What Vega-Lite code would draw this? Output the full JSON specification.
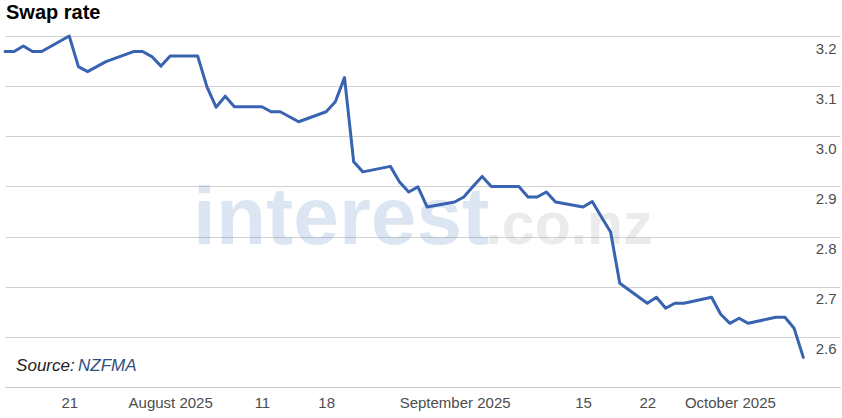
{
  "$schema": "https://vega.github.io/schema/vega-lite/v6.json",
  "autosize": {"type": "none"},
  "width": 835,
  "height": 351,
  "padding": {"left": 5, "top": 36, "right": 2, "bottom": 31},
  "background": "white",
  "config": {"view": {"stroke": null}, "font": "Liberation Sans"},
  "title": {"text": "Swap rate", "anchor": "start", "frame": "group", "font": "Liberation Sans", "fontSize": 20, "fontWeight": "bold", "color": "#000000", "offset": 12, "dx": 1},
  "layer": [
    {
      "data": {"values": [{"label": "interest"}]},
      "mark": {"type": "text", "font": "Liberation Sans", "fontWeight": "bold", "fontSize": 82, "align": "left", "baseline": "alphabetic", "fill": "#4f81bd", "fillOpacity": 0.2, "strokeWidth": 0},
      "encoding": {
        "text": {"field": "label"},
        "x": {"datum": {"year": 2025, "month": "aug", "date": 3, "hours": 12}, "type": "temporal"},
        "y": {"datum": 2.786, "type": "quantitative"}
      }
    },
    {
      "data": {"values": [{"label": ".co.nz"}]},
      "mark": {"type": "text", "font": "Liberation Sans", "fontWeight": "bold", "fontSize": 59, "align": "right", "baseline": "alphabetic", "fill": "#999999", "fillOpacity": 0.2, "strokeWidth": 0},
      "encoding": {
        "text": {"field": "label"},
        "x": {"datum": {"year": 2025, "month": "sep", "date": 22, "hours": 14}, "type": "temporal"},
        "y": {"datum": 2.786, "type": "quantitative"}
      }
    },
    {
      "data": {"values": [
        {"date": "2025-07-14T00:00:00", "rate": 3.169},
        {"date": "2025-07-15T00:00:00", "rate": 3.169},
        {"date": "2025-07-16T00:00:00", "rate": 3.18},
        {"date": "2025-07-17T00:00:00", "rate": 3.169},
        {"date": "2025-07-18T00:00:00", "rate": 3.169},
        {"date": "2025-07-21T00:00:00", "rate": 3.2},
        {"date": "2025-07-22T00:00:00", "rate": 3.139},
        {"date": "2025-07-23T00:00:00", "rate": 3.129},
        {"date": "2025-07-24T00:00:00", "rate": 3.139},
        {"date": "2025-07-25T00:00:00", "rate": 3.149},
        {"date": "2025-07-28T00:00:00", "rate": 3.169},
        {"date": "2025-07-29T00:00:00", "rate": 3.169},
        {"date": "2025-07-30T00:00:00", "rate": 3.159},
        {"date": "2025-07-31T00:00:00", "rate": 3.14},
        {"date": "2025-08-01T00:00:00", "rate": 3.16},
        {"date": "2025-08-04T00:00:00", "rate": 3.16},
        {"date": "2025-08-05T00:00:00", "rate": 3.099},
        {"date": "2025-08-06T00:00:00", "rate": 3.058},
        {"date": "2025-08-07T00:00:00", "rate": 3.08},
        {"date": "2025-08-08T00:00:00", "rate": 3.059},
        {"date": "2025-08-11T00:00:00", "rate": 3.059},
        {"date": "2025-08-12T00:00:00", "rate": 3.049},
        {"date": "2025-08-13T00:00:00", "rate": 3.049},
        {"date": "2025-08-14T00:00:00", "rate": 3.039},
        {"date": "2025-08-15T00:00:00", "rate": 3.029},
        {"date": "2025-08-18T00:00:00", "rate": 3.049},
        {"date": "2025-08-19T00:00:00", "rate": 3.069},
        {"date": "2025-08-20T00:00:00", "rate": 3.117},
        {"date": "2025-08-21T00:00:00", "rate": 2.949},
        {"date": "2025-08-22T00:00:00", "rate": 2.929},
        {"date": "2025-08-25T00:00:00", "rate": 2.94},
        {"date": "2025-08-26T00:00:00", "rate": 2.909},
        {"date": "2025-08-27T00:00:00", "rate": 2.889},
        {"date": "2025-08-28T00:00:00", "rate": 2.899},
        {"date": "2025-08-29T00:00:00", "rate": 2.859},
        {"date": "2025-09-01T00:00:00", "rate": 2.869},
        {"date": "2025-09-02T00:00:00", "rate": 2.879},
        {"date": "2025-09-03T00:00:00", "rate": 2.9},
        {"date": "2025-09-04T00:00:00", "rate": 2.92},
        {"date": "2025-09-05T00:00:00", "rate": 2.9},
        {"date": "2025-09-08T00:00:00", "rate": 2.9},
        {"date": "2025-09-09T00:00:00", "rate": 2.879},
        {"date": "2025-09-10T00:00:00", "rate": 2.879},
        {"date": "2025-09-11T00:00:00", "rate": 2.889},
        {"date": "2025-09-12T00:00:00", "rate": 2.869},
        {"date": "2025-09-15T00:00:00", "rate": 2.859},
        {"date": "2025-09-16T00:00:00", "rate": 2.87},
        {"date": "2025-09-17T00:00:00", "rate": 2.839},
        {"date": "2025-09-18T00:00:00", "rate": 2.809},
        {"date": "2025-09-19T00:00:00", "rate": 2.707},
        {"date": "2025-09-22T00:00:00", "rate": 2.667},
        {"date": "2025-09-23T00:00:00", "rate": 2.679},
        {"date": "2025-09-24T00:00:00", "rate": 2.657},
        {"date": "2025-09-25T00:00:00", "rate": 2.667},
        {"date": "2025-09-26T00:00:00", "rate": 2.667},
        {"date": "2025-09-29T00:00:00", "rate": 2.679},
        {"date": "2025-09-30T00:00:00", "rate": 2.645},
        {"date": "2025-10-01T00:00:00", "rate": 2.627},
        {"date": "2025-10-02T00:00:00", "rate": 2.637},
        {"date": "2025-10-03T00:00:00", "rate": 2.627},
        {"date": "2025-10-06T00:00:00", "rate": 2.639},
        {"date": "2025-10-07T00:00:00", "rate": 2.639},
        {"date": "2025-10-08T00:00:00", "rate": 2.617},
        {"date": "2025-10-09T00:00:00", "rate": 2.559}
      ]},
      "mark": {"type": "line", "color": "#3763b0", "strokeWidth": 3, "strokeJoin": "round", "strokeCap": "round"},
      "encoding": {
        "x": {
          "field": "date", "type": "temporal", "title": null,
          "scale": {"domain": [{"year": 2025, "month": "jul", "date": 14}, {"year": 2025, "month": "oct", "date": 13}], "nice": false},
          "axis": {
            "orient": "bottom",
            "values": [
              {"year": 2025, "month": "jul", "date": 21},
              {"year": 2025, "month": "aug", "date": 1},
              {"year": 2025, "month": "aug", "date": 11},
              {"year": 2025, "month": "aug", "date": 18},
              {"year": 2025, "month": "sep", "date": 1},
              {"year": 2025, "month": "sep", "date": 15},
              {"year": 2025, "month": "sep", "date": 22},
              {"year": 2025, "month": "oct", "date": 1}
            ],
            "labelExpr": "date(datum.value) == 1 ? timeFormat(datum.value, '%B %Y') : timeFormat(datum.value, '%-d')",
            "grid": false, "ticks": false, "domain": true, "domainColor": "#c8c8c8", "domainWidth": 1,
            "labelFont": "Liberation Sans", "labelFontSize": 15, "labelColor": "#4d4d4d", "labelPadding": 8,
            "labelOverlap": false, "labelFlush": false
          }
        },
        "y": {
          "field": "rate", "type": "quantitative", "title": null,
          "scale": {"domain": [2.5, 3.2], "nice": false, "zero": false},
          "axis": {
            "orient": "right",
            "values": [2.5, 2.55, 2.6, 2.65, 2.7, 2.75, 2.8, 2.85, 2.9, 2.95, 3.0, 3.05, 3.1, 3.15, 3.2],
            "labelExpr": "datum.value > 2.51 && round(datum.value * 100) % 10 === 0 ? format(datum.value, '.1f') : ''",
            "grid": true,
            "gridColor": {"condition": {"test": "round(datum.value * 100) % 10 === 0", "value": "#d2d2d2"}, "value": "#eaeaea"},
            "gridWidth": 1,
            "domain": false, "ticks": false,
            "labelAlign": "right", "labelBaseline": "middle", "labelPadding": -4, "labelOffset": 12,
            "labelFont": "Liberation Sans", "labelFontSize": 15, "labelColor": "#4d4d4d", "labelOverlap": false
          }
        }
      }
    },
    {
      "data": {"values": [{"label": "Source:"}]},
      "mark": {"type": "text", "font": "Liberation Sans", "fontStyle": "italic", "fontSize": 17, "align": "left", "baseline": "middle", "fill": "#222222", "strokeWidth": 0},
      "encoding": {
        "text": {"field": "label"},
        "x": {"datum": {"year": 2025, "month": "jul", "date": 15, "hours": 5}, "type": "temporal"},
        "y": {"datum": 2.542, "type": "quantitative"}
      }
    },
    {
      "data": {"values": [{"label": "NZFMA"}]},
      "mark": {"type": "text", "font": "Liberation Sans", "fontStyle": "italic", "fontSize": 17, "align": "left", "baseline": "middle", "fill": "#2f4f80", "strokeWidth": 0},
      "encoding": {
        "text": {"field": "label"},
        "x": {"datum": {"year": 2025, "month": "jul", "date": 21, "hours": 23}, "type": "temporal"},
        "y": {"datum": 2.542, "type": "quantitative"}
      }
    }
  ]
}
